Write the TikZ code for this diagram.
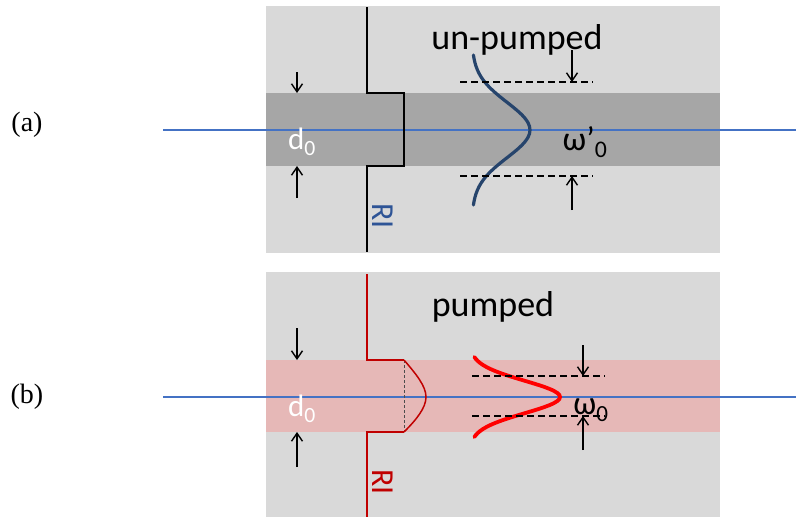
\documentclass[tikz,border=0pt]{standalone}
\usepackage{fontspec}
\newfontfamily\calib{Carlito}
\newfontfamily\tagfont{Liberation Serif}
\usetikzlibrary{arrows.meta, positioning, calc}
\definecolor{PanelGray}{RGB}{217,217,217}
\definecolor{BandGray}{RGB}{166,166,166}
\definecolor{BandPink}{RGB}{230,184,183}
\definecolor{AxisBlue}{RGB}{68,114,196}
\definecolor{BeamBlue}{RGB}{38,68,108}
\definecolor{LabelBlue}{RGB}{46,84,150}
\definecolor{RIRed}{RGB}{192,0,0}
\definecolor{BeamRed}{RGB}{255,0,0}

\begin{document}
\begin{tikzpicture}[x=1pt, y=-1pt]

\tikzset{
dimarrow/.style={-{Straight Barb[length=8pt,width=11pt]}, line width=1.4pt},
guide/.style={dash pattern=on 7pt off 4pt, line width=1.3pt},
axis/.style={AxisBlue, line width=1.3pt},
riline/.style={line width=2pt},
lbl/.style={font=\calib\fontsize{#1}{#1}\selectfont, inner sep=0pt},
tag/.style={font=\tagfont\fontsize{28}{28}\selectfont, inner sep=0pt}
}

\useasboundingbox (0,0) rectangle (796,517);

% (a) un-pumped
\fill[PanelGray] (266,6) rectangle (720,253);
\fill[BandGray] (266,93) rectangle (720,166);

\node[tag] (taga) at (27,125) {(a)};

\coordinate (axa-l) at (163,130);
\coordinate (axa-r) at (796,130);
\draw[axis] (axa-l) -- (axa-r);

\draw[riline] (367,7) -- (367,93) -- (404,93) -- (404,166) -- (367,166) -- (367,252);
\node[lbl=32, text=LabelBlue, rotate=-90] (ria) at (383,216) {RI};

\coordinate (da-top) at (297,72);
\coordinate (da-hi) at (297,93);
\coordinate (da-bot) at (297,198);
\coordinate (da-lo) at (297,166);
\draw[dimarrow] (da-top) -- (da-hi);
\draw[dimarrow] (da-bot) -- (da-lo);
\node[lbl=31, text=white] (d0a) at (302,142) {d\textsubscript{0}};

\draw[BeamBlue, line width=3.2pt, line cap=round]
  plot[domain=-75:75, smooth, samples=41] ({472+58*exp(-1*(\x/39)*(\x/39))}, {130+\x});

\coordinate (ga-hl) at (460,82);
\coordinate (ga-hr) at (593,82);
\coordinate (ga-ll) at (460,176);
\coordinate (ga-lr) at (593,176);
\draw[guide] (ga-hl) -- (ga-hr);
\draw[guide] (ga-ll) -- (ga-lr);
\coordinate (wa-top) at (572,50);
\coordinate (wa-bot) at (572,210);
\draw[dimarrow] (wa-top) -- (572,82);
\draw[dimarrow] (wa-bot) -- (572,176);
\node[lbl=34] (wa) at (585,142) {ω’\textsubscript{0}};
\node[lbl=36] (unpumped) at (517,40) {un-pumped};

% (b) pumped
\fill[PanelGray] (266,272) rectangle (720,517);
\fill[BandPink] (266,360) rectangle (720,432);

\node[tag] (tagb) at (27,397) {(b)};

\coordinate (axb-l) at (163,397);
\coordinate (axb-r) at (796,397);
\draw[axis] (axb-l) -- (axb-r);

\draw[riline, RIRed] (367,274) -- (367,360) -- (404,360);
\draw[riline, RIRed] (404,432) -- (367,432) -- (367,517);
\draw[densely dashed, black!70, line width=0.9pt] (404,360) -- (404,432);
\draw[RIRed, line width=1.5pt] (404,360) .. controls (416,374) and (426,386) .. (426,397)
  .. controls (426,408) and (416,420) .. (404,432);
\node[lbl=32, text=RIRed, rotate=-90] (rib) at (383,482) {RI};

\coordinate (db-top) at (297,328);
\coordinate (db-hi) at (297,360);
\coordinate (db-bot) at (297,467);
\coordinate (db-lo) at (297,432);
\draw[dimarrow] (db-top) -- (db-hi);
\draw[dimarrow] (db-bot) -- (db-lo);
\node[lbl=31, text=white] (d0b) at (302,409) {d\textsubscript{0}};

\draw[BeamRed, line width=3.8pt, line cap=round]
  plot[domain=-40:40, smooth, samples=41] ({470+90*exp(-1*(\x/23)*(\x/23))}, {397+\x});

\coordinate (gb-hl) at (472,376);
\coordinate (gb-hr) at (605,376);
\coordinate (gb-ll) at (472,416);
\coordinate (gb-lr) at (605,416);
\draw[guide] (gb-hl) -- (gb-hr);
\draw[guide] (gb-ll) -- (gb-lr);
\coordinate (wb-top) at (583,345);
\coordinate (wb-bot) at (583,450);
\draw[dimarrow] (wb-top) -- (583,376);
\draw[dimarrow] (wb-bot) -- (583,416);
\node[lbl=33] (wb) at (591,410) {ω\textsubscript{0}};
\node[lbl=36] (pumped) at (493,307) {pumped};

\end{tikzpicture}
\end{document}
